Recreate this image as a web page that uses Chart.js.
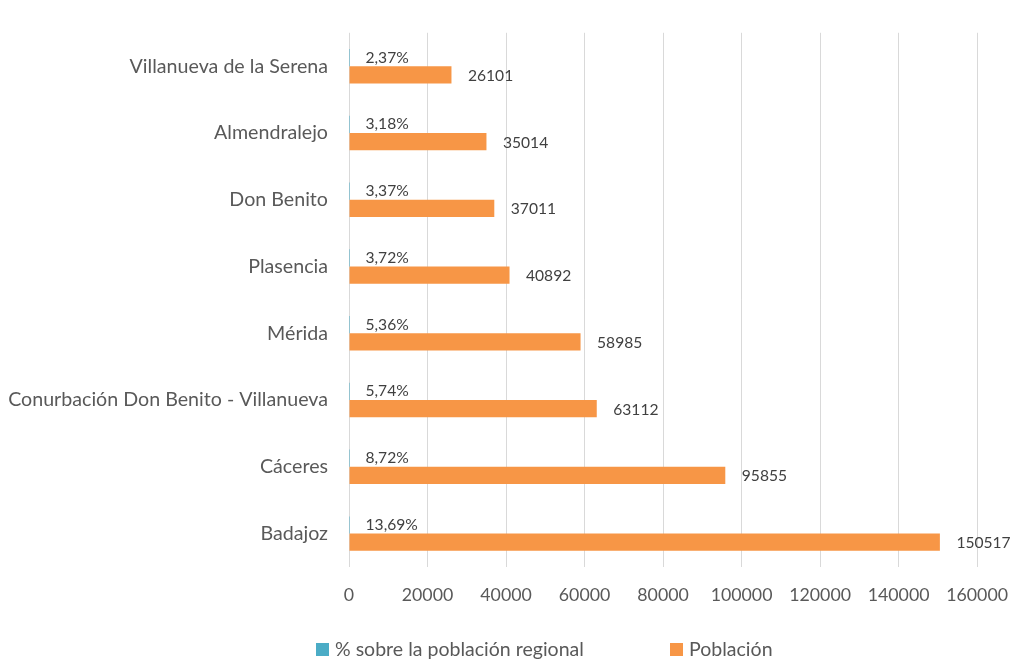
<!DOCTYPE html>
<html>
<head>
<meta charset="utf-8">
<script src="https://cdn.jsdelivr.net/npm/chart.js@4/dist/chart.umd.min.js"></script>
<style>
html,body{margin:0;padding:0;background:#fff;}
#wrap{position:relative;width:1026px;height:661px;}
</style>
</head>
<body>
<div id="wrap"><canvas id="c" width="1026" height="661"></canvas></div>
<script>
const categories = [
  'Villanueva de la Serena',
  'Almendralejo',
  'Don Benito',
  'Plasencia',
  'Mérida',
  'Conurbación Don Benito - Villanueva',
  'Cáceres',
  'Badajoz'
];
const pctValues = [2.37, 3.18, 3.37, 3.72, 5.36, 5.74, 8.72, 13.69];
const pctLabels = ['2,37%', '3,18%', '3,37%', '3,72%', '5,36%', '5,74%', '8,72%', '13,69%'];
const population = [26101, 35014, 37011, 40892, 58985, 63112, 95855, 150517];
const xTicks = [0, 20000, 40000, 60000, 80000, 100000, 120000, 140000, 160000];
const seriesNames = ['% sobre la población regional', 'Población'];

const FONT = 'Lato';
const TEAL = '#4BACC6';
const ORANGE = '#F79646';

// pick font sizes so the substitute font spans the same widths as the original text
const mctx = document.createElement('canvas').getContext('2d');
function fitSize(text, target) {
  mctx.font = '100px ' + FONT;
  return Math.round(1000 * target / mctx.measureText(text).width) / 10;
}
const catSize = (fitSize('Conurbación Don Benito - Villanueva', 317) + fitSize('Villanueva de la Serena', 200)) / 2;
const tickSize = (fitSize('20000', 53) + fitSize('160000', 60)) / 2;
const valSize = (fitSize('150517', 54) + fitSize('26101', 45) + fitSize('13,69%', 53)) / 3;
const legSize = (fitSize('% sobre la población regional', 251) + fitSize('Población', 83)) / 2;

const valueLabels = {
  id: 'valueLabels',
  afterDatasetsDraw(chart) {
    const ctx = chart.ctx;
    ctx.save();
    ctx.font = valSize + 'px ' + FONT;
    ctx.fillStyle = '#404040';
    ctx.textBaseline = 'middle';
    ctx.textAlign = 'left';
    chart.getDatasetMeta(0).data.forEach((bar, i) => {
      ctx.fillText(pctLabels[i], bar.x + 16.5, bar.y);
    });
    chart.getDatasetMeta(1).data.forEach((bar, i) => {
      ctx.fillText(String(population[i]), bar.x + 16.5, bar.y + 1);
    });
    ctx.restore();
  }
};

const bottomLegend = {
  id: 'bottomLegend',
  afterDraw(chart) {
    const ctx = chart.ctx;
    ctx.save();
    ctx.font = legSize + 'px ' + FONT;
    ctx.textBaseline = 'middle';
    ctx.textAlign = 'left';
    const items = [
      {x: 316, color: chart.data.datasets[0].backgroundColor, text: chart.data.datasets[0].label},
      {x: 670, color: chart.data.datasets[1].backgroundColor, text: chart.data.datasets[1].label}
    ];
    items.forEach(it => {
      ctx.fillStyle = it.color;
      ctx.fillRect(it.x, 643, 13, 13);
      ctx.fillStyle = '#595959';
      ctx.fillText(it.text, it.x + 19, 650);
    });
    ctx.restore();
  }
};

new Chart(document.getElementById('c'), {
  type: 'bar',
  data: {
    labels: categories,
    datasets: [
      {label: seriesNames[0], data: pctValues, backgroundColor: TEAL},
      {label: seriesNames[1], data: population, backgroundColor: ORANGE}
    ]
  },
  options: {
    indexAxis: 'y',
    responsive: false,
    animation: false,
    devicePixelRatio: 1,
    layout: {padding: {top: 9, right: 37, bottom: 0, left: 0}},
    datasets: {bar: {categoryPercentage: 0.516, barPercentage: 1}},
    plugins: {legend: {display: false}, tooltip: {enabled: false}},
    scales: {
      x: {
        min: 0, max: 160000,
        afterBuildTicks: s => { s.ticks = xTicks.map(v => ({value: v})); },
        afterFit: s => { s.height = 94; },
        grid: {color: '#D9D9D9', lineWidth: 1, drawTicks: false},
        border: {display: false},
        ticks: {
          padding: 18,
          color: '#595959',
          font: {family: FONT, size: tickSize},
          callback: v => String(v)
        }
      },
      y: {
        afterFit: s => { s.width = 349; },
        grid: {display: false, drawTicks: false},
        border: {display: false},
        ticks: {
          padding: 21,
          color: '#595959',
          font: {family: FONT, size: catSize}
        }
      }
    }
  },
  plugins: [valueLabels, bottomLegend]
});
</script>
</body>
</html>
